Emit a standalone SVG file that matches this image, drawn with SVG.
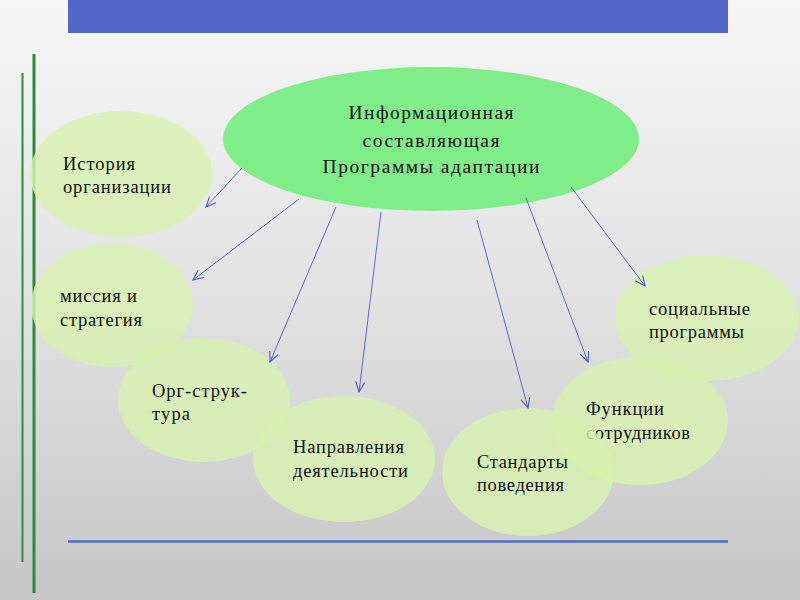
<svg xmlns="http://www.w3.org/2000/svg" width="800" height="600" viewBox="0 0 800 600">
<defs>
<linearGradient id="bg" x1="0" y1="0" x2="0" y2="1">
<stop offset="0" stop-color="#f6f6f6"/>
<stop offset="0.5" stop-color="#e2e2e2"/>
<stop offset="1" stop-color="#c6c6c6"/>
</linearGradient>
<marker id="arr" markerUnits="userSpaceOnUse" markerWidth="14" markerHeight="14" refX="11" refY="5" orient="auto">
<path d="M1,0.5 L11,5 L1,9.5" fill="none" stroke="#4a5cc4" stroke-width="1.1"/>
</marker>
<style>
.bub{fill:#d8f2b0;fill-opacity:0.82}
.t{font-family:"Liberation Serif","DejaVu Serif",serif;font-size:18.5px;fill:#111}
.tc{font-family:"Liberation Serif","DejaVu Serif",serif;font-size:19.5px;fill:#111;text-anchor:middle}
.c{stroke:#4a5cc4;stroke-width:0.9;fill:none;marker-end:url(#arr)}
</style>
</defs>
<rect x="0" y="0" width="800" height="600" fill="url(#bg)"/>
<rect x="68" y="0" width="660" height="33" fill="#5067c8"/>
<line x1="68" y1="541.5" x2="728" y2="541.5" stroke="#5067c8" stroke-width="2.5"/>
<line x1="34" y1="54" x2="34" y2="593" stroke="#2e8b3a" stroke-width="3"/>
<line x1="22.5" y1="73" x2="22.5" y2="562" stroke="#2e8b3a" stroke-width="2"/>

<g id="n-history"><ellipse class="bub" cx="121" cy="174" rx="91" ry="63"/>
<text class="t" x="63" y="170" textLength="72" lengthAdjust="spacing">История</text>
<text class="t" x="63" y="193" textLength="108" lengthAdjust="spacing">организации</text></g>
<g id="n-mission"><ellipse class="bub" cx="112" cy="305" rx="81" ry="62"/>
<text class="t" x="60" y="302" textLength="77" lengthAdjust="spacing">миссия и</text>
<text class="t" x="60" y="326" textLength="82" lengthAdjust="spacing">стратегия</text></g>
<g id="n-org"><ellipse class="bub" cx="204" cy="400" rx="86" ry="62"/>
<text class="t" x="152" y="397" textLength="95" lengthAdjust="spacing">Орг-струк-</text>
<text class="t" x="152" y="420" textLength="38" lengthAdjust="spacing">тура</text></g>
<g id="n-directions"><ellipse class="bub" cx="344" cy="459" rx="91" ry="63"/>
<text class="t" x="293" y="453" textLength="111" lengthAdjust="spacing">Направления</text>
<text class="t" x="293" y="477" textLength="115" lengthAdjust="spacing">деятельности</text></g>
<g id="n-social"><ellipse class="bub" cx="707" cy="318" rx="92" ry="63"/>
<text class="t" x="649" y="315" textLength="101" lengthAdjust="spacing">социальные</text>
<text class="t" x="649" y="338" textLength="95" lengthAdjust="spacing">программы</text></g>
<g id="n-functions"><ellipse class="bub" cx="640" cy="421" rx="88" ry="64"/>
<text class="t" x="586" y="415" textLength="78" lengthAdjust="spacing">Функции</text>
<text class="t" x="586" y="439" textLength="104" lengthAdjust="spacing">сотрудников</text></g>
<g id="n-standards"><ellipse class="bub" cx="528" cy="472" rx="86" ry="64"/>
<text class="t" x="477" y="468" textLength="91" lengthAdjust="spacing">Стандарты</text>
<text class="t" x="477" y="491" textLength="87" lengthAdjust="spacing">поведения</text></g>

<g id="n-center"><ellipse cx="431" cy="139" rx="208" ry="72" fill="#80ee88"/>
<text class="tc" x="431" y="119" textLength="165" lengthAdjust="spacing">Информационная</text>
<text class="tc" x="431" y="147" textLength="137" lengthAdjust="spacing">составляющая</text>
<text class="tc" x="431" y="173" textLength="217" lengthAdjust="spacing">Программы адаптации</text></g>

<g id="connectors">
<line class="c" x1="242" y1="168" x2="206" y2="207"/>
<line class="c" x1="299" y1="199" x2="193" y2="280"/>
<line class="c" x1="336" y1="207" x2="270" y2="362"/>
<line class="c" x1="381" y1="212" x2="359" y2="392"/>
<line class="c" x1="477" y1="220" x2="528" y2="408"/>
<line class="c" x1="526" y1="198" x2="588" y2="362"/>
<line class="c" x1="571" y1="187" x2="645" y2="286"/>
</g>
</svg>
